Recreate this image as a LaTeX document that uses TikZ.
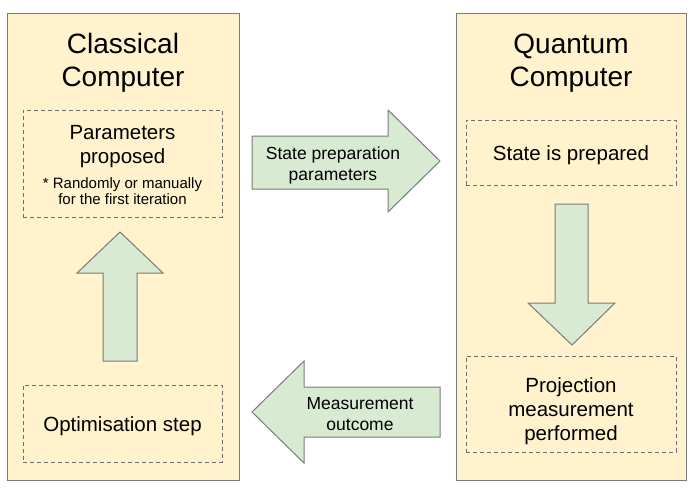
\documentclass[tikz,border=0pt]{standalone}
\usepackage{fontspec}
\setmainfont{Liberation Sans}
\definecolor{boxfill}{HTML}{FFF2CC}
\definecolor{arrowfill}{HTML}{D9EAD3}
\definecolor{edgegray}{HTML}{7A7A7A}
\definecolor{dashgray}{HTML}{6E6E6E}
\begin{document}
\begin{tikzpicture}[x=1pt,y=-1pt,
  panel/.style={draw=edgegray,fill=boxfill,line width=1pt},
  stepbox/.style={draw=dashgray,dash pattern=on 4pt off 3pt,line width=0.9pt,inner sep=0pt},
  blockarrow/.style={draw=edgegray,fill=arrowfill,line width=1pt,line join=miter},
  titletext/.style={font=\fontsize{28}{33}\selectfont,align=center,inner sep=0pt},
  steptext/.style={font=\fontsize{20.5}{24}\selectfont,align=center,inner sep=0pt},
  notetext/.style={font=\fontsize{15}{16.5}\selectfont,align=center,inner sep=0pt},
  arrowtext/.style={font=\fontsize{17.5}{21}\selectfont,align=center,inner sep=0pt}]
\useasboundingbox (0,0) rectangle (693,493);
\fill[white] (0,0) rectangle (693,493);

% panels
\node[panel,minimum width=232pt,minimum height=467pt,inner sep=0pt] (classical) at (123,246.5) {};
\node[panel,minimum width=230pt,minimum height=467pt,inner sep=0pt] (quantum) at (571,246.5) {};

\node[titletext] (ctitle) at (123,63) {Classical\\Computer};
\node[titletext] (qtitle) at (571,63) {Quantum\\Computer};

% classical steps
\node[stepbox,minimum width=199pt,minimum height=107pt] (params) at (122.5,163.5) {};
\node[steptext] (paramstext) at (122.5,147) {Parameters\\proposed};
\node[notetext] (paramsnote) at (122.5,191) {* Randomly or manually\\for the first iteration};

\node[stepbox,minimum width=199pt,minimum height=77pt] (optim) at (122.5,423.5) {};
\node[steptext] (optimtext) at (122.5,426) {Optimisation step};

% quantum steps
\node[stepbox,minimum width=210pt,minimum height=65pt] (prep) at (571,152.5) {};
\node[steptext] (preptext) at (571,155) {State is prepared};

\node[stepbox,minimum width=210pt,minimum height=96pt] (meas) at (571,404) {};
\node[steptext] (meastext) at (571,411) {Projection\\measurement\\performed};

% block arrows
\draw[blockarrow] (103,361) -- (103,273) -- (77,273) -- (120,232) -- (163,273) -- (137,273) -- (137,361) -- cycle;
\draw[blockarrow] (555,204) -- (588,204) -- (588,303) -- (615,303) -- (572,345) -- (528,303) -- (555,303) -- cycle;
\draw[blockarrow] (252,136) -- (388,136) -- (388,110) -- (440,161) -- (388,212) -- (388,189) -- (252,189) -- cycle;
\draw[blockarrow] (440,387) -- (304,387) -- (304,361) -- (252,412) -- (304,463) -- (304,437) -- (440,437) -- cycle;

\node[arrowtext] (sendtext) at (333,165) {State preparation\\parameters};
\node[arrowtext] (backtext) at (360,414) {Measurement\\outcome};
\end{tikzpicture}
\end{document}
